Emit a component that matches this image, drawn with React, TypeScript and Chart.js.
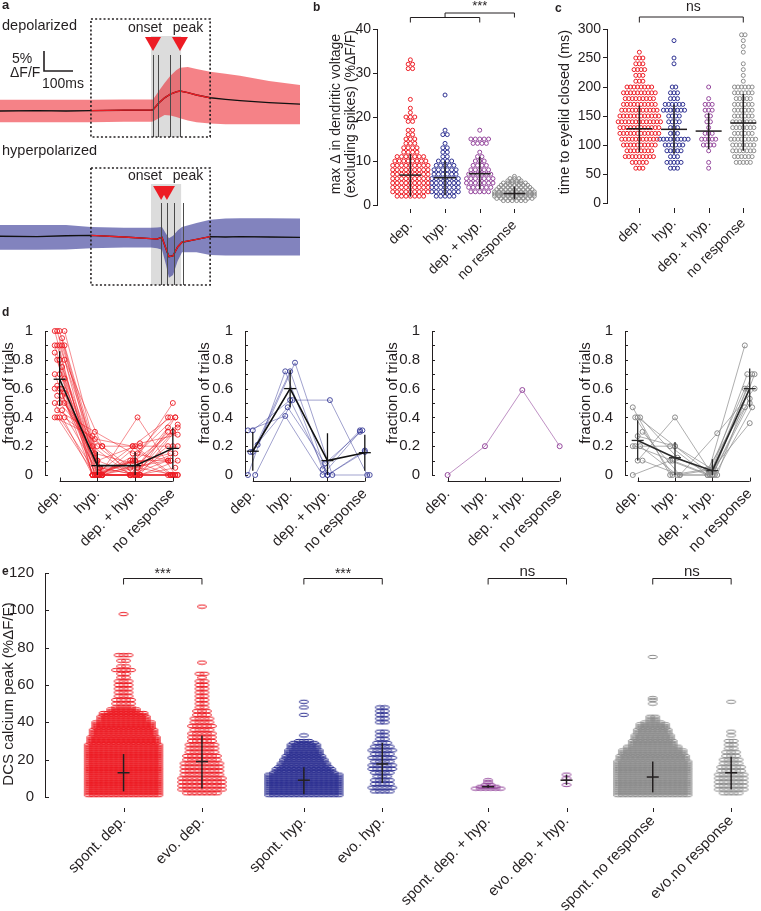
import React, { useEffect, useRef } from 'react';
import { Chart, registerables } from 'chart.js';

Chart.register(...registerables);

const FONT = "'Liberation Sans', Arial, Helvetica, sans-serif";
Chart.defaults.font.family = FONT;
Chart.defaults.color = '#231F20';

const INK = '#231F20';
const RED = '#ED1C24';
const BLUE = '#2E3192';
const PURPLE = '#94479C';
const GRAY = '#8C8C8C';

// ---------------- Panel a: mean ± sd traces (time in ms, signal in %ΔF/F) ----------------
const aWindow = [-214, 197];
const aShade = [-7, 97];
const depTime = [-530, -400, -300, -214, -100, -7, 0, 20, 40, 60, 80, 93, 120, 150, 197, 250, 300, 400, 510];
const depMean = [0, 0.1, 0, 0.1, 0.2, 0.2, 0.3, 2.0, 3.3, 4.2, 4.8, 5.0, 4.6, 4.0, 3.3, 2.9, 2.6, 2.1, 1.7];
const depUpper = [2.8, 2.8, 2.8, 2.8, 2.9, 2.9, 2.9, 5.0, 7.0, 8.8, 10.2, 10.8, 11.0, 10.5, 9.8, 9.3, 8.8, 7.5, 6.5];
const depLower = [-2.8, -2.8, -2.8, -2.8, -2.7, -2.7, -2.6, -1.8, -1.0, -1.1, -1.5, -1.8, -2.4, -2.8, -3.1, -3.3, -3.3, -3.3, -3.3];
const depLines = [0, 17, 59, 93];
const depMarks = [0, 93];
const hypTime = [-530, -400, -300, -214, -100, -7, 14, 31, 45, 55, 69, 85, 100, 150, 197, 250, 300, 400, 510];
const hypMean = [0.2, 0.1, 0.3, 0.4, 0.0, -0.4, -0.5, -0.1, -3.0, -4.9, -4.7, -2.5, -1.3, -0.6, 0.1, 0.0, 0.1, 0.0, -0.1];
const hypUpper = [3.0, 3.0, 3.0, 2.5, 2.3, 2.3, 2.4, 2.5, 0.8, -0.3, 0.3, 1.6, 2.5, 3.5, 4.3, 4.6, 4.7, 4.7, 4.6];
const hypLower = [-3.2, -3.2, -3.1, -2.8, -2.6, -2.6, -2.8, -3.2, -7.0, -10.2, -9.5, -6.0, -3.8, -3.8, -4.5, -4.6, -4.6, -4.6, -4.6];
const hypLines = [28, 48, 72, 103];
const hypMarks = [28, 48];
const scaleBarMs = 100;
const scaleBarPct = 5;

// ---------------- Panel b: max Δ dendritic voltage (rows: value, count) ----------------
const bLabels = ['dep.', 'hyp.', 'dep. + hyp.', 'no response'];
const bPos = [1, 2, 3, 4];
const bDepValues = [2, 3, 4, 5, 6, 7, 8, 9, 10, 11, 12, 13, 14, 15, 16, 17, 19, 20, 21, 22, 24, 31, 32, 33];
const bDepCounts = [7, 9, 9, 9, 9, 9, 9, 9, 8, 7, 4, 4, 3, 3, 2, 2, 2, 3, 1, 1, 1, 2, 2, 1];
const bHypValues = [2, 3, 4, 5, 6, 7, 8, 9, 10, 11, 12, 13, 14, 16, 17, 25];
const bHypCounts = [5, 7, 7, 7, 7, 6, 6, 5, 4, 2, 2, 2, 1, 2, 1, 1];
const bBothValues = [3, 4, 5, 6, 7, 8, 9, 10, 11, 12, 14, 15, 17];
const bBothCounts = [5, 6, 7, 7, 6, 5, 4, 3, 2, 1, 4, 5, 1];
const bNoneValues = [1, 1.5, 2, 2.5, 3, 3.5, 4, 4.5, 5, 5.5, 6, 6.5];
const bNoneCounts = [6, 9, 10, 10, 10, 9, 8, 7, 6, 4, 3, 1];
const bMeans = [6.8, 6.2, 7.1, 2.6];
const bErrLow = [1.9, 2.2, 3.6, 1.3];
const bErrHigh = [11.6, 10.0, 11.0, 4.2];

// ---------------- Panel c: time to eyelid closed (ms) ----------------
const cLabels = ['dep.', 'hyp.', 'dep. + hyp.', 'no response'];
const cPos = [1, 2, 3, 4];
const cDepValues = [60, 70, 80, 90, 100, 110, 120, 130, 140, 150, 160, 170, 180, 190, 200, 210, 220, 230, 240, 250, 260];
const cDepCounts = [3, 5, 9, 8, 10, 11, 12, 12, 13, 12, 11, 10, 9, 10, 8, 3, 3, 4, 3, 3, 1];
const cHypValues = [60, 70, 80, 90, 100, 110, 120, 130, 140, 150, 160, 170, 180, 190, 200, 240, 250, 280];
const cHypCounts = [3, 5, 3, 5, 6, 9, 3, 3, 4, 4, 7, 6, 3, 3, 2, 1, 1, 1];
const cBothValues = [60, 70, 90, 100, 110, 120, 130, 140, 150, 160, 170, 180, 200];
const cBothCounts = [1, 1, 1, 4, 5, 3, 1, 2, 2, 3, 3, 1, 1];
const cNoneValues = [70, 80, 90, 100, 110, 120, 130, 140, 150, 160, 170, 180, 190, 200, 210, 220, 230, 240, 260, 270, 280, 290];
const cNoneCounts = [5, 6, 7, 7, 8, 6, 7, 7, 6, 6, 6, 5, 6, 6, 1, 1, 1, 1, 1, 1, 1, 2];
const cMeans = [128, 127, 124, 138];
const cErrLow = [88, 85, 93, 90];
const cErrHigh = [168, 170, 155, 188];

// ---------------- Panel d: fraction of trials per cell ----------------
const dLabels = ['dep.', 'hyp.', 'dep. + hyp.', 'no response'];
const d1Dep = [1.0, 1.0, 1.0, 1.0, 0.95, 0.9, 0.9, 0.9, 0.9, 0.9, 0.85, 0.8, 0.8, 0.8, 0.75, 0.7, 0.7, 0.67, 0.62, 0.6, 0.6, 0.6, 0.57, 0.55, 0.55, 0.5, 0.5, 0.5, 0.45, 0.45, 0.4, 0.4, 0.4, 0.4];
const d1Hyp = [0, 0, 0, 0, 0, 0, 0.1, 0, 0, 0.05, 0, 0, 0.2, 0, 0.05, 0, 0.1, 0, 0.15, 0, 0.2, 0, 0, 0.25, 0.05, 0, 0.2, 0, 0.3, 0, 0.27, 0, 0.2, 0];
const d1Both = [0, 0, 0, 0, 0.05, 0, 0, 0, 0.1, 0, 0.05, 0, 0, 0.1, 0.05, 0, 0.2, 0, 0.08, 0.4, 0, 0.1, 0.08, 0.2, 0, 0.1, 0, 0.22, 0.15, 0.15, 0, 0.1, 0.2, 0.2];
const d1None = [0, 0, 0, 0, 0, 0.1, 0, 0.1, 0, 0.05, 0.1, 0.2, 0, 0.1, 0.15, 0.3, 0, 0.33, 0.15, 0, 0.2, 0.3, 0.35, 0, 0.4, 0.4, 0.3, 0.28, 0.1, 0.4, 0.33, 0.5, 0.2, 0.4];
const d1Means = [0.665, 0.065, 0.065, 0.185];
const d1Low = [0.48, 0, 0, 0.04];
const d1High = [0.86, 0.16, 0.16, 0.33];
const d2Dep = [0.31, 0.31, 0.21, 0.16, 0.0, 0.0, 0.16];
const d2Hyp = [0.41, 0.52, 0.78, 0.47, 0.52, 0.72, 0.72];
const d2Both = [0.0, 0.0, 0.0, 0.08, 0.52, 0.04, 0.0];
const d2None = [0.30, 0.17, 0.0, 0.31, 0.0, 0.31, 0.16];
const d2Means = [0.165, 0.6, 0.1, 0.155];
const d2Low = [0.03, 0.47, 0.0, 0.03];
const d2High = [0.3, 0.73, 0.29, 0.28];
const d3Dep = [0.0];
const d3Hyp = [0.2];
const d3Both = [0.59];
const d3None = [0.2];
const d4Dep = [0.0, 0.1, 0.1, 0.2, 0.2, 0.2, 0.27, 0.3, 0.4, 0.4, 0.47, 0.4];
const d4Hyp = [0.1, 0.4, 0.0, 0.1, 0.0, 0.2, 0.2, 0.0, 0.0, 0.12, 0.0, 0.2];
const d4Both = [0.0, 0.0, 0.29, 0.0, 0.04, 0.0, 0.0, 0.0, 0.0, 0.0, 0.04, 0.04];
const d4None = [0.9, 0.5, 0.6, 0.7, 0.7, 0.6, 0.53, 0.7, 0.6, 0.47, 0.47, 0.36];
const d4Means = [0.24, 0.12, 0.03, 0.6];
const d4Low = [0.1, 0.0, 0.0, 0.47];
const d4High = [0.38, 0.23, 0.11, 0.74];

// ---------------- Panel e: DCS calcium peak (%ΔF/F) ----------------
const eLabels = ['spont. dep.', 'evo. dep.', 'spont. hyp.', 'evo. hyp.', 'spont. dep. + hyp.', 'evo. dep. + hyp.', 'spont. no response', 'evo.no response'];
const eGroupX = [1, 2, 3.3, 4.3, 5.65, 6.65, 7.75, 8.75];
const eSig = ['***', '***', 'ns', 'ns'];
const eSpDepValues = [1, 2, 3, 4, 5, 6, 7, 8, 9, 10, 11, 12, 13, 14, 15, 16, 17, 18, 19, 20, 21, 22, 23, 24, 25, 26, 27, 28, 29, 30, 31, 32, 33, 34, 35, 36, 37, 38, 39, 40, 41, 42, 43, 44, 45, 46, 47, 48, 50, 52, 54, 56, 58, 60, 62, 64, 66, 68, 70, 73, 76, 98];
const eSpDepCounts = [15, 15, 15, 15, 15, 15, 15, 15, 15, 15, 15, 15, 15, 15, 15, 15, 15, 15, 15, 15, 15, 15, 15, 15, 15, 15, 15, 15, 14, 14, 14, 14, 13, 13, 13, 13, 12, 12, 12, 12, 10, 10, 10, 9, 9, 6, 6, 4, 4, 4, 3, 3, 3, 3, 3, 2, 2, 4, 2, 2, 3, 1];
const eEvDepValues = [2, 4, 6, 8, 10, 12, 14, 16, 18, 20, 22, 24, 26, 28, 30, 32, 34, 36, 38, 40, 42, 44, 46, 48, 50, 52, 54, 56, 58, 60, 62, 64, 66, 72, 102];
const eEvDepCounts = [7, 9, 9, 9, 9, 8, 8, 8, 8, 7, 7, 6, 6, 6, 5, 5, 5, 4, 5, 4, 4, 3, 3, 2, 2, 2, 2, 2, 2, 2, 2, 1, 2, 1, 1];
const eSpHypValues = [1, 2, 3, 4, 5, 6, 7, 8, 9, 10, 11, 12, 13, 14, 15, 16, 17, 18, 19, 20, 21, 22, 23, 24, 25, 26, 27, 28, 29, 30, 33, 44, 48, 51];
const eSpHypCounts = [15, 15, 15, 15, 15, 15, 15, 15, 15, 15, 15, 15, 13, 12, 12, 11, 10, 10, 9, 9, 8, 8, 7, 7, 7, 6, 6, 6, 5, 3, 1, 1, 1, 1];
const eEvHypValues = [3, 5, 7, 9, 11, 13, 15, 17, 19, 21, 23, 25, 27, 29, 31, 33, 35, 40, 42, 44, 46, 48];
const eEvHypCounts = [4, 5, 4, 4, 3, 4, 5, 5, 4, 5, 4, 5, 4, 3, 2, 2, 2, 2, 2, 2, 2, 2];
const eSpBothValues = [4.5, 5.5, 6.5, 8, 9];
const eSpBothCounts = [6, 4, 2, 1, 1];
const eEvBothValues = [6.5, 10, 12];
const eEvBothCounts = [1, 1, 1];
const eSpNoneValues = [1, 2, 3, 4, 5, 6, 7, 8, 9, 10, 11, 12, 13, 14, 15, 16, 17, 18, 19, 20, 21, 22, 23, 24, 25, 26, 27, 28, 29, 30, 31, 32, 33, 34, 35, 36, 37, 38, 39, 40, 41, 42, 43, 50, 52, 53, 75];
const eSpNoneCounts = [15, 15, 15, 15, 15, 15, 15, 15, 15, 15, 15, 15, 15, 15, 15, 15, 15, 15, 15, 14, 14, 14, 13, 13, 13, 11, 11, 9, 9, 9, 8, 8, 8, 7, 7, 7, 6, 6, 6, 4, 2, 2, 2, 1, 1, 1, 1];
const eEvNoneValues = [2, 4, 6, 8, 10, 12, 14, 16, 18, 20, 22, 24, 26, 28, 30, 33, 35, 51];
const eEvNoneCounts = [4, 6, 6, 6, 6, 6, 5, 5, 4, 4, 3, 3, 2, 2, 2, 1, 1, 1];
const eMeans = [13, 19, 9, 17.7, 5.5, 9, 10.7, 13];
const eErrLow = [3, 4.5, 1.5, 7.5, 5, 6.5, 2.5, 4];
const eErrHigh = [23, 33, 16, 29, 6.5, 12, 19, 21.5];

// ---------------- helpers ----------------
type Box = { left: number; top: number; width: number; height: number };
type Area = { l: number; t: number; r: number; b: number };

function lin(p0: number, p1: number, v0: number, v1: number, a: number, b: number) {
  const k = (v1 - v0) / (p1 - p0);
  return { min: v0 + (a - p0) * k, max: v0 + (b - p0) * k };
}

function drawText(ctx: any, s: string, x: number, y: number, size: number, o: any = {}) {
  ctx.save();
  ctx.font = `${o.bold ? 'bold ' : ''}${size}px ${FONT}`;
  ctx.fillStyle = o.color || INK;
  ctx.textAlign = o.align || 'left';
  ctx.textBaseline = o.baseline || 'alphabetic';
  ctx.translate(x, y);
  if (o.rot) ctx.rotate(o.rot);
  ctx.fillText(s, 0, 0);
  ctx.restore();
}

function drawPath(ctx: any, pts: number[][], color: string, width: number, dash?: number[]) {
  ctx.save();
  ctx.strokeStyle = color;
  ctx.lineWidth = width;
  if (dash) ctx.setLineDash(dash);
  ctx.beginPath();
  pts.forEach(([x, y], i) => (i ? ctx.lineTo(x, y) : ctx.moveTo(x, y)));
  ctx.stroke();
  ctx.restore();
}

function bracket(ctx: any, x1: number, x2: number, y: number, drop: number) {
  drawPath(ctx, [[x1, y + drop], [x1, y], [x2, y], [x2, y + drop]], INK, 1);
}

function swarmPoints(xc: number, values: number[], counts: number[], step: number) {
  const pts: { x: number; y: number }[] = [];
  values.forEach((v, i) => {
    const n = counts[i];
    for (let k = 0; k < n; k++) pts.push({ x: xc + (k - (n - 1) / 2) * step, y: v });
  });
  return pts;
}

const ellipseCache: Record<string, HTMLCanvasElement> = {};
function ellipseStyle(color: string) {
  if (ellipseCache[color]) return ellipseCache[color];
  const c = document.createElement('canvas');
  c.width = 12;
  c.height = 6;
  const ctx = c.getContext('2d')!;
  ctx.strokeStyle = color;
  ctx.lineWidth = 1;
  ctx.beginPath();
  ctx.ellipse(6, 3, 4.6, 1.7, 0, 0, Math.PI * 2);
  ctx.stroke();
  ellipseCache[color] = c;
  return c;
}

const ROT = -Math.PI / 2;

function baseOptions(box: Box, area: Area) {
  return {
    responsive: false,
    animation: false,
    events: [],
    layout: { padding: { left: 0, top: area.t - box.top, right: box.left + box.width - area.r, bottom: 0 } },
    plugins: { legend: { display: false }, tooltip: { enabled: false } },
  };
}

function xCatAxis(box: Box, area: Area, range: any, positions: number[], labels: string[], size: number, pad: number, offset = 0) {
  return {
    type: 'linear',
    bounds: 'data',
    min: range.min,
    max: range.max,
    afterBuildTicks: (s: any) => {
      s.ticks = positions.map((v) => ({ value: v }));
    },
    afterFit: (s: any) => {
      s.height = box.top + box.height - area.b;
      s.paddingLeft = 0;
      s.paddingRight = 0;
    },
    grid: { display: false },
    border: { display: false },
    ticks: {
      autoSkip: false,
      minRotation: 45,
      maxRotation: 45,
      padding: pad,
      labelOffset: offset,
      color: INK,
      font: { size },
      callback: (_v: any, i: number) => labels[i],
    },
  };
}

function yAxis(box: Box, area: Area, min: number, max: number, step: number, size: number, outwardTicks: boolean, pad: number) {
  return {
    type: 'linear',
    bounds: 'data',
    min,
    max,
    afterFit: (s: any) => {
      s.width = area.l - box.left;
      s.paddingTop = 0;
      s.paddingBottom = 0;
    },
    grid: outwardTicks
      ? { display: true, drawOnChartArea: false, drawTicks: true, tickLength: 4, color: INK, lineWidth: 1 }
      : { display: false },
    border: { display: true, color: INK, width: 1 },
    ticks: {
      stepSize: step,
      padding: pad,
      color: INK,
      font: { size },
      callback: (v: number) => String(Math.round(v * 10) / 10),
    },
  };
}

// ---------------- panel a ----------------
function traceConfig(p: any) {
  const box: Box = p.box;
  const PX_MS = 0.29;
  const PX_PCT = 4;
  const ONSET_X = 153;
  const Y = (py: number) => py - box.top;
  const yMax = (p.zeroY - box.top) / PX_PCT;
  const pts = (ys: number[]) => p.t.map((t: number, i: number) => ({ x: t, y: ys[i] }));
  const inWindow = pts(p.mean).filter((d: any) => d.x >= aWindow[0] && d.x <= aWindow[1]);
  const deco = {
    id: 'deco',
    beforeDatasetsDraw(chart: any) {
      const { ctx, scales } = chart;
      const x0 = scales.x.getPixelForValue(aShade[0]);
      const x1 = scales.x.getPixelForValue(aShade[1]);
      ctx.save();
      ctx.fillStyle = '#DCDCDC';
      ctx.fillRect(x0, Y(p.shadeTop), x1 - x0, Y(p.boxBot) - Y(p.shadeTop));
      ctx.restore();
    },
    afterDatasetsDraw(chart: any) {
      const { ctx, scales } = chart;
      p.lines.forEach((t: number) => {
        const px = Math.round(scales.x.getPixelForValue(t)) + 0.5;
        drawPath(ctx, [[px, Y(p.lineTop)], [px, Y(p.boxBot)]], '#4A4A4A', 1);
      });
    },
    afterDraw(chart: any) {
      const { ctx, scales } = chart;
      const bx0 = scales.x.getPixelForValue(aWindow[0]);
      const bx1 = scales.x.getPixelForValue(aWindow[1]);
      drawPath(ctx, [[bx0, Y(p.boxTop)], [bx1, Y(p.boxTop)], [bx1, Y(p.boxBot)], [bx0, Y(p.boxBot)], [bx0, Y(p.boxTop)]], INK, 1.6, [2, 2.2]);
      p.marks.forEach((t: number) => {
        const px = scales.x.getPixelForValue(t);
        const tip = Y(p.markTip);
        ctx.save();
        ctx.fillStyle = RED;
        ctx.beginPath();
        ctx.moveTo(px - 8, tip - 14);
        ctx.lineTo(px + 8, tip - 14);
        ctx.lineTo(px, tip);
        ctx.closePath();
        ctx.fill();
        ctx.restore();
      });
      p.extra(ctx, chart, Y);
    },
  };
  return {
    type: 'scatter',
    data: {
      datasets: [
        { data: inWindow, showLine: true, borderColor: RED, borderWidth: 1.3, pointRadius: 0 },
        { data: pts(p.mean), showLine: true, borderColor: '#111111', borderWidth: 1.4, pointRadius: 0 },
        { data: pts(p.up), showLine: true, borderColor: 'rgba(0,0,0,0)', borderWidth: 1, pointRadius: 0, fill: '+1', backgroundColor: p.band },
        { data: pts(p.lo), showLine: true, borderColor: 'rgba(0,0,0,0)', borderWidth: 1, pointRadius: 0 },
      ],
    },
    options: {
      responsive: false,
      animation: false,
      events: [],
      layout: { padding: 0 },
      plugins: { legend: { display: false }, tooltip: { enabled: false } },
      scales: {
        x: { type: 'linear', display: false, min: -ONSET_X / PX_MS, max: (box.width - ONSET_X) / PX_MS },
        y: { type: 'linear', display: false, min: yMax - box.height / PX_PCT, max: yMax },
      },
    },
    plugins: [deco],
  };
}

// ---------------- swarm panels (b, c, e) ----------------
function swarmConfig(p: any) {
  const box: Box = p.box;
  const area: Area = p.area;
  const xPos: number[] = p.xPos;
  const last = xPos.length - 1;
  const range = lin(p.anchor[0], p.anchor[1], xPos[0], xPos[last], area.l, area.r);
  const unitsPerPx = (xPos[last] - xPos[0]) / (p.anchor[1] - p.anchor[0]);
  const X = (px: number) => px - box.left;
  const Y = (py: number) => py - box.top;
  const datasets = p.groups.map((g: any, i: number) => ({
    data: swarmPoints(xPos[i], g.values, g.counts, p.spacing * unitsPerPx),
    pointStyle: p.ellipse ? ellipseStyle(g.color) : 'circle',
    pointRadius: p.radius,
    pointHoverRadius: p.radius,
    pointBorderWidth: 1,
    pointBorderColor: g.color,
    pointBackgroundColor: 'rgba(0,0,0,0)',
    clip: false,
  }));
  const deco = {
    id: 'deco',
    afterDatasetsDraw(chart: any) {
      const { ctx, scales } = chart;
      p.means.forEach((m: number, i: number) => {
        const cx = scales.x.getPixelForValue(xPos[i]);
        drawPath(ctx, [[cx, scales.y.getPixelForValue(p.lo[i])], [cx, scales.y.getPixelForValue(p.hi[i])]], INK, 1.5);
        const my = scales.y.getPixelForValue(m);
        drawPath(ctx, [[cx - p.crossHw, my], [cx + p.crossHw, my]], INK, 1.5);
      });
    },
    afterDraw(chart: any) {
      const { ctx, scales } = chart;
      xPos.forEach((v) => {
        const cx = Math.round(scales.x.getPixelForValue(v)) + 0.5;
        drawPath(ctx, [[cx, Y(p.tickY[0])], [cx, Y(p.tickY[1])]], INK, 1);
      });
      if (p.inward) {
        scales.y.ticks.forEach((t: any) => {
          const yy = Math.round(scales.y.getPixelForValue(t.value)) + 0.5;
          drawPath(ctx, [[chart.chartArea.left, yy], [chart.chartArea.left + 4, yy]], INK, 1);
        });
      }
      p.extra(ctx, chart, X, Y);
    },
  };
  return {
    type: 'scatter',
    data: { datasets },
    options: {
      ...baseOptions(box, area),
      scales: {
        x: xCatAxis(box, area, range, xPos, p.labels, p.xFont, p.xPad, p.xOffset || 0),
        y: yAxis(box, area, p.yMin, p.yMax, p.yStep, p.yFont, !p.inward, p.yPad),
      },
    },
    plugins: [deco],
  };
}

// ---------------- fraction panels (d) ----------------
function fracConfig(p: any) {
  const box: Box = p.box;
  const area: Area = p.area;
  const cat = [1, 2, 3, 4];
  const range = lin(p.anchor[0], p.anchor[1], 1, 4, area.l, area.r);
  const unitsPerPx = 3 / (p.anchor[1] - p.anchor[0]);
  const X = (px: number) => px - box.left;
  const Y = (py: number) => py - box.top;
  const cols = [p.dep, p.hyp, p.both, p.none];
  const n = p.dep.length;
  const jitterPx = [-5, -2.5, 0, 2.5, 5];
  const subjects = p.dep.map((_v: number, i: number) => ({
    data: cat.map((c, k) => ({ x: c + (n > 1 ? jitterPx[(i * 2) % 5] : 0) * unitsPerPx, y: cols[k][i] })),
    showLine: true,
    borderColor: p.lineColor,
    borderWidth: 1,
    pointRadius: 2.5,
    pointHoverRadius: 2.5,
    pointBorderWidth: 1,
    pointBorderColor: p.pointColor,
    pointBackgroundColor: 'rgba(0,0,0,0)',
    clip: false,
  }));
  const datasets = p.means
    ? [
        {
          data: cat.map((c, k) => ({ x: c, y: p.means[k] })),
          showLine: true,
          borderColor: p.meanColor,
          borderWidth: 1.6,
          pointRadius: 0,
          clip: false,
        },
        ...subjects,
      ]
    : subjects;
  const deco = {
    id: 'deco',
    afterDatasetsDraw(chart: any) {
      if (!p.means) return;
      const { ctx, scales } = chart;
      p.means.forEach((m: number, k: number) => {
        const cx = scales.x.getPixelForValue(cat[k]);
        drawPath(ctx, [[cx, scales.y.getPixelForValue(p.lo[k])], [cx, scales.y.getPixelForValue(p.hi[k])]], p.meanColor, 1.3);
        const my = scales.y.getPixelForValue(m);
        drawPath(ctx, [[cx - 6, my], [cx + 6, my]], p.meanColor, 1.3);
      });
    },
    afterDraw(chart: any) {
      const { ctx, scales, chartArea } = chart;
      for (let k = 0; k <= 10; k++) {
        const yy = Math.round(scales.y.getPixelForValue(k / 10)) + 0.5;
        drawPath(ctx, [[chartArea.left, yy], [chartArea.left + 3, yy]], INK, 1);
      }
      const x1 = scales.x.getPixelForValue(1);
      const x4 = scales.x.getPixelForValue(4);
      drawPath(ctx, [[x1, Y(481.5)], [x4, Y(481.5)]], INK, 1);
      cat.forEach((c) => {
        const cx = Math.round(scales.x.getPixelForValue(c)) + 0.5;
        drawPath(ctx, [[cx, Y(481.5)], [cx, Y(477.5)]], INK, 1);
      });
      drawText(ctx, 'fraction of trials', X(p.titleX), Y(393), 15, { align: 'center', baseline: 'middle', rot: ROT });
      if (p.letter) drawText(ctx, p.letter, X(2), Y(316), 12, { bold: true });
    },
  };
  return {
    type: 'scatter',
    data: { datasets },
    options: {
      ...baseOptions(box, area),
      scales: {
        x: xCatAxis(box, area, range, cat, dLabels, 15, 2, 0),
        y: yAxis(box, area, 0, 1, 0.2, 15, false, 4),
      },
    },
    plugins: [deco],
  };
}

// ---------------- component ----------------
function ChartCanvas({ box, make }: { box: Box; make: () => any }) {
  const ref = useRef<HTMLCanvasElement | null>(null);
  useEffect(() => {
    if (!ref.current) return;
    const chart = new Chart(ref.current, make());
    return () => chart.destroy();
  }, []);
  return (
    <canvas
      ref={ref}
      width={box.width}
      height={box.height}
      style={{ position: 'absolute', left: box.left, top: box.top, width: box.width, height: box.height }}
    />
  );
}

const boxATop: Box = { left: 0, top: 0, width: 300, height: 145 };
const boxABot: Box = { left: 0, top: 145, width: 300, height: 145 };
const boxB: Box = { left: 300, top: 0, width: 240, height: 300 };
const areaB: Area = { l: 377, t: 29, r: 540, b: 205 };
const boxC: Box = { left: 540, top: 0, width: 221, height: 300 };
const areaC: Area = { l: 607, t: 29, r: 761, b: 203 };
const boxD1: Box = { left: 0, top: 300, width: 190, height: 260 };
const boxD2: Box = { left: 190, top: 300, width: 190, height: 260 };
const boxD3: Box = { left: 380, top: 300, width: 190, height: 260 };
const boxD4: Box = { left: 570, top: 300, width: 191, height: 260 };
const boxE: Box = { left: 0, top: 555, width: 761, height: 356 };
const areaE: Area = { l: 45, t: 573, r: 761, b: 797 };

const makeATop = () =>
  traceConfig({
    box: boxATop, t: depTime, mean: depMean, up: depUpper, lo: depLower, band: 'rgba(237,28,36,0.55)',
    lines: depLines, marks: depMarks, zeroY: 111, boxTop: 19, boxBot: 137, shadeTop: 36, lineTop: 55, markTip: 51,
    extra: (ctx: any, chart: any, Y: any) => {
      drawText(ctx, 'a', 2, Y(9), 13, { bold: true });
      drawText(ctx, 'depolarized', 2, Y(30), 14.5);
      drawText(ctx, 'onset', 145, Y(32), 14, { align: 'center' });
      drawText(ctx, 'peak', 188, Y(32), 14, { align: 'center' });
      const { x, y } = chart.scales;
      const w = x.getPixelForValue(scaleBarMs) - x.getPixelForValue(0);
      const h = y.getPixelForValue(0) - y.getPixelForValue(scaleBarPct);
      drawPath(ctx, [[44, Y(71) - h], [44, Y(71)], [44 + w, Y(71)]], INK, 1.6);
      drawText(ctx, '5%', 12, Y(63), 14);
      drawText(ctx, 'ΔF/F', 10, Y(77), 14);
      drawText(ctx, '100ms', 42, Y(88), 14);
    },
  });

const makeABot = () =>
  traceConfig({
    box: boxABot, t: hypTime, mean: hypMean, up: hypUpper, lo: hypLower, band: 'rgba(46,49,146,0.6)',
    lines: hypLines, marks: hypMarks, zeroY: 237, boxTop: 168, boxBot: 285, shadeTop: 184, lineTop: 203, markTip: 200,
    extra: (ctx: any, _chart: any, Y: any) => {
      drawText(ctx, 'hyperpolarized', 2, Y(155), 14.5);
      drawText(ctx, 'onset', 145, Y(180), 14, { align: 'center' });
      drawText(ctx, 'peak', 188, Y(180), 14, { align: 'center' });
    },
  });

const makeB = () =>
  swarmConfig({
    box: boxB, area: areaB, xPos: bPos, anchor: [411, 517], labels: bLabels,
    groups: [
      { values: bDepValues, counts: bDepCounts, color: RED },
      { values: bHypValues, counts: bHypCounts, color: BLUE },
      { values: bBothValues, counts: bBothCounts, color: PURPLE },
      { values: bNoneValues, counts: bNoneCounts, color: GRAY },
    ],
    spacing: 4.5, radius: 2, means: bMeans, lo: bErrLow, hi: bErrHigh, crossHw: 11,
    yMin: 0, yMax: 40, yStep: 10, yFont: 14, yPad: 2, xFont: 14, xPad: 4, tickY: [209, 213], inward: false,
    extra: (ctx: any, chart: any, X: any, Y: any) => {
      const c = bPos.map((v) => chart.scales.x.getPixelForValue(v));
      bracket(ctx, c[0], c[2], Y(17.5), 5);
      bracket(ctx, c[1], c[3], Y(13), 4.5);
      drawText(ctx, '***', (c[1] + c[3]) / 2, Y(10), 13, { align: 'center' });
      drawText(ctx, 'max Δ in dendritic voltage', X(336), Y(114), 14, { align: 'center', baseline: 'middle', rot: ROT });
      drawText(ctx, '(excluding spikes) (%ΔF/F)', X(351), Y(114), 14, { align: 'center', baseline: 'middle', rot: ROT });
      drawText(ctx, 'b', X(313), Y(11), 12, { bold: true });
    },
  });

const makeC = () =>
  swarmConfig({
    box: boxC, area: areaC, xPos: cPos, anchor: [640, 746], labels: cLabels,
    groups: [
      { values: cDepValues, counts: cDepCounts, color: RED },
      { values: cHypValues, counts: cHypCounts, color: BLUE },
      { values: cBothValues, counts: cBothCounts, color: PURPLE },
      { values: cNoneValues, counts: cNoneCounts, color: GRAY },
    ],
    spacing: 3.6, radius: 2, means: cMeans, lo: cErrLow, hi: cErrHigh, crossHw: 13,
    yMin: 0, yMax: 300, yStep: 50, yFont: 14, yPad: 2, xFont: 14, xPad: 4, tickY: [208, 213], inward: false,
    extra: (ctx: any, chart: any, X: any, Y: any) => {
      const c = cPos.map((v) => chart.scales.x.getPixelForValue(v));
      bracket(ctx, c[0], c[3], Y(17), 5.5);
      drawText(ctx, 'ns', (c[0] + c[3]) / 2 + 2, Y(11), 14, { align: 'center' });
      drawText(ctx, 'time to eyelid closed (ms)', X(565), Y(112), 14.5, { align: 'center', baseline: 'middle', rot: ROT });
      drawText(ctx, 'c', X(555), Y(12), 12, { bold: true });
    },
  });

const makeE = () =>
  swarmConfig({
    box: boxE, area: areaE, xPos: eGroupX, anchor: [124, 735], labels: eLabels,
    groups: [
      { values: eSpDepValues, counts: eSpDepCounts, color: RED },
      { values: eEvDepValues, counts: eEvDepCounts, color: RED },
      { values: eSpHypValues, counts: eSpHypCounts, color: BLUE },
      { values: eEvHypValues, counts: eEvHypCounts, color: BLUE },
      { values: eSpBothValues, counts: eSpBothCounts, color: PURPLE },
      { values: eEvBothValues, counts: eEvBothCounts, color: PURPLE },
      { values: eSpNoneValues, counts: eSpNoneCounts, color: GRAY },
      { values: eEvNoneValues, counts: eEvNoneCounts, color: GRAY },
    ],
    ellipse: true, spacing: 5, radius: 3, means: eMeans, lo: eErrLow, hi: eErrHigh, crossHw: 6,
    yMin: 0, yMax: 120, yStep: 20, yFont: 15, yPad: 3, xFont: 15, xPad: 7, tickY: [808, 812], inward: true,
    extra: (ctx: any, chart: any, X: any, Y: any) => {
      const c = eGroupX.map((v) => chart.scales.x.getPixelForValue(v));
      eSig.forEach((s, k) => {
        const i = 2 * k;
        bracket(ctx, c[i], c[i + 1], Y(578.5), 6);
        const star = s !== 'ns';
        drawText(ctx, s, (c[i] + c[i + 1]) / 2, Y(star ? 578 : 576), star ? 14 : 15, { align: 'center' });
      });
      drawText(ctx, 'DCS calcium peak (%ΔF/F)', X(9), Y(694), 15, { align: 'center', baseline: 'middle', rot: ROT });
      drawText(ctx, 'e', X(2), Y(575), 12, { bold: true });
    },
  });

const makeD1 = () =>
  fracConfig({
    box: boxD1, area: { l: 45, t: 331, r: 190, b: 475 }, anchor: [60, 176],
    dep: d1Dep, hyp: d1Hyp, both: d1Both, none: d1None, means: d1Means, lo: d1Low, hi: d1High,
    lineColor: 'rgba(237,28,36,0.5)', pointColor: 'rgba(237,28,36,0.9)', meanColor: '#111111', titleX: 9, letter: 'd',
  });
const makeD2 = () =>
  fracConfig({
    box: boxD2, area: { l: 245, t: 331, r: 380, b: 475 }, anchor: [253, 368],
    dep: d2Dep, hyp: d2Hyp, both: d2Both, none: d2None, means: d2Means, lo: d2Low, hi: d2High,
    lineColor: 'rgba(46,49,146,0.45)', pointColor: 'rgba(46,49,146,0.85)', meanColor: '#111111', titleX: 205,
  });
const makeD3 = () =>
  fracConfig({
    box: boxD3, area: { l: 432, t: 331, r: 570, b: 475 }, anchor: [448, 563],
    dep: d3Dep, hyp: d3Hyp, both: d3Both, none: d3None,
    lineColor: 'rgba(148,71,156,0.6)', pointColor: PURPLE, titleX: 393,
  });
const makeD4 = () =>
  fracConfig({
    box: boxD4, area: { l: 625, t: 331, r: 761, b: 475 }, anchor: [638, 753],
    dep: d4Dep, hyp: d4Hyp, both: d4Both, none: d4None, means: d4Means, lo: d4Low, hi: d4High,
    lineColor: 'rgba(140,140,140,0.7)', pointColor: '#8A8A8A', meanColor: '#2A2A2A', titleX: 586,
  });

export default function App() {
  return (
    <div style={{ position: 'fixed', left: 0, top: 0, width: 761, height: 911, background: '#ffffff', overflow: 'hidden' }}>
      <ChartCanvas box={boxATop} make={makeATop} />
      <ChartCanvas box={boxABot} make={makeABot} />
      <ChartCanvas box={boxB} make={makeB} />
      <ChartCanvas box={boxC} make={makeC} />
      <ChartCanvas box={boxD1} make={makeD1} />
      <ChartCanvas box={boxD2} make={makeD2} />
      <ChartCanvas box={boxD3} make={makeD3} />
      <ChartCanvas box={boxD4} make={makeD4} />
      <ChartCanvas box={boxE} make={makeE} />
    </div>
  );
}
